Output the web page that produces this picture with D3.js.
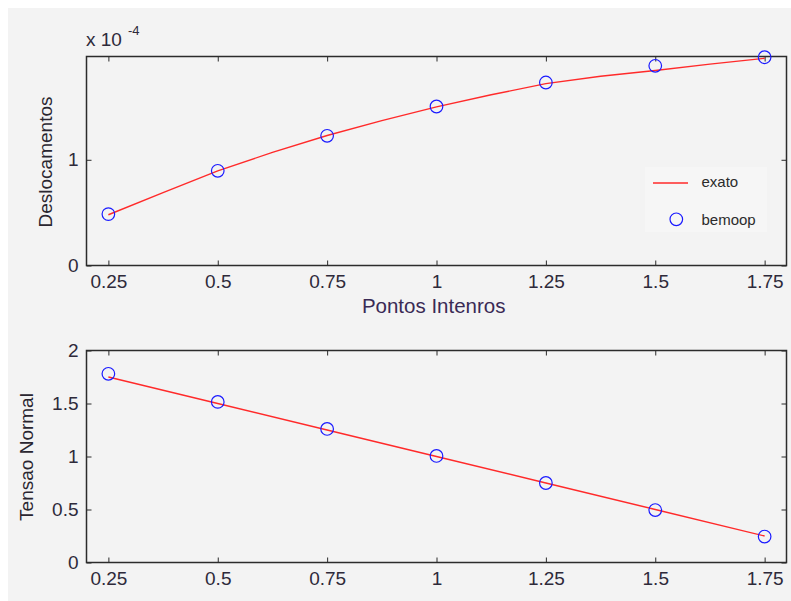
<!DOCTYPE html>
<html>
<head>
<meta charset="utf-8">
<script src="https://cdn.jsdelivr.net/npm/d3@7"></script>
<style>
  body { margin: 0; background: #fff; }
  svg { display: block; font-family: "Liberation Sans", Arial, sans-serif; }
  .axis path, .axis line { stroke: #2b2b2b; }
  .axis text { fill: #2e2a3a; font-size: 19px; }
</style>
</head>
<body>
<svg id="chart" width="791" height="601"></svg>
<script>
// ---- data ----
const pontos      = [0.25, 0.5, 0.75, 1.0, 1.25, 1.5, 1.75];
const xTicks      = [0.25, 0.5, 0.75, 1, 1.25, 1.5, 1.75];
const xTickLabels = ['0.25', '0.5', '0.75', '1', '1.25', '1.5', '1.75'];

// deslocamentos (x 1e-4)
const exatoX      = [0.25, 0.375, 0.5, 0.625, 0.75, 0.875, 1.0, 1.125, 1.25, 1.375, 1.5, 1.625, 1.75];
const deslExato   = [0.48, 0.69, 0.895, 1.07, 1.23, 1.37, 1.50, 1.615, 1.72, 1.79, 1.845, 1.905, 1.96];
const deslBemoop  = [0.486, 0.896, 1.227, 1.504, 1.731, 1.889, 1.97];
const deslTicks   = [0, 1];

// tensao normal
const tensExato   = [1.75, 1.5, 1.25, 1.0, 0.75, 0.5, 0.25];
const tensBemoop  = [1.78, 1.515, 1.26, 1.005, 0.75, 0.495, 0.245];
const tensTicks   = [0, 0.5, 1, 1.5, 2];
const tensTickLabels = ['0', '0.5', '1', '1.5', '2'];

const svg = d3.select('#chart');

// panel background
svg.append('rect')
  .attr('x', 8).attr('y', 8)
  .attr('width', 783).attr('height', 593)
  .attr('fill', '#f3f3f3');

const x = d3.scaleLinear().domain([0.2, 1.8]).range([86.5, 786.5]);

// draws one axes box with inward ticks on all four sides
function drawAxes(y, yTicks, yFmt, top, bottom) {
  const g = svg.append('g');

  g.append('g').attr('class', 'axis')
    .attr('transform', `translate(0,${bottom})`)
    .call(d3.axisBottom(x).tickValues(xTicks)
      .tickFormat((d, i) => xTickLabels[i])
      .tickSizeInner(-5).tickSizeOuter(0).tickPadding(9.5));

  g.append('g').attr('class', 'axis')
    .attr('transform', `translate(0,${top})`)
    .call(d3.axisTop(x).tickValues(xTicks).tickFormat('')
      .tickSizeInner(-5).tickSizeOuter(0));

  g.append('g').attr('class', 'axis')
    .attr('transform', `translate(${x.range()[0]},0)`)
    .call(d3.axisLeft(y).tickValues(yTicks).tickFormat(yFmt)
      .tickSizeInner(-5).tickSizeOuter(0).tickPadding(8));

  g.append('g').attr('class', 'axis')
    .attr('transform', `translate(${x.range()[1]},0)`)
    .call(d3.axisRight(y).tickValues(yTicks).tickFormat('')
      .tickSizeInner(-5).tickSizeOuter(0));

  // box
  g.append('rect')
    .attr('x', x.range()[0]).attr('y', top)
    .attr('width', x.range()[1] - x.range()[0])
    .attr('height', bottom - top)
    .attr('fill', 'none')
    .attr('stroke', '#2b2b2b')
    .attr('stroke-width', 1.5);

  g.selectAll('.axis path.domain').remove();
  return g;
}

function drawSeries(y, lineX, lineY, ptsY) {
  const line = d3.line().x((d, i) => x(lineX[i])).y(d => y(d));
  svg.append('path')
    .datum(lineY)
    .attr('d', line)
    .attr('fill', 'none')
    .attr('stroke', '#ff2a2a')
    .attr('stroke-width', 1.4);

  svg.append('g').selectAll('circle')
    .data(ptsY)
    .join('circle')
      .attr('cx', (d, i) => x(pontos[i]))
      .attr('cy', d => y(d))
      .attr('r', 6.3)
      .attr('fill', 'none')
      .attr('stroke', '#1a1aff')
      .attr('stroke-width', 1.2);
}

// ---- top: deslocamentos ----
const yTop = d3.scaleLinear().domain([0, 1.977]).range([265.5, 56.5]);
drawAxes(yTop, deslTicks, d => d3.format('d')(d), 56.5, 265.5);
drawSeries(yTop, exatoX, deslExato, deslBemoop);

svg.append('text')
  .attr('x', 86).attr('y', 46)
  .attr('font-size', 19).attr('fill', '#2e2a3a')
  .text('x 10');
svg.append('text')
  .attr('x', 128).attr('y', 35)
  .attr('font-size', 13).attr('fill', '#2e2a3a')
  .text('-4');

svg.append('text')
  .attr('transform', 'translate(51.5,162) rotate(-90)')
  .attr('text-anchor', 'middle')
  .attr('font-size', 19).attr('fill', '#2a2630')
  .text('Deslocamentos');

svg.append('text')
  .attr('x', 433.7).attr('y', 313.3)
  .attr('text-anchor', 'middle')
  .attr('font-size', 20.5).attr('fill', '#3a2a55')
  .text('Pontos Intenros');

// legend
const leg = svg.append('g');
leg.append('rect')
  .attr('x', 645).attr('y', 167).attr('width', 122).attr('height', 65)
  .attr('fill', '#f6f6f6');
leg.append('line')
  .attr('x1', 653).attr('x2', 688).attr('y1', 183).attr('y2', 183)
  .attr('stroke', '#ff2a2a').attr('stroke-width', 1.4);
leg.append('circle')
  .attr('cx', 676.3).attr('cy', 219.3).attr('r', 6.3)
  .attr('fill', 'none').attr('stroke', '#1a1aff').attr('stroke-width', 1.2);
leg.selectAll('text')
  .data(['exato', 'bemoop'])
  .join('text')
    .attr('x', 701.5)
    .attr('y', (d, i) => i ? 225 : 186.7)
    .attr('font-size', 15).attr('fill', '#2b2b2b')
    .text(d => d);

// ---- bottom: tensao normal ----
const yBot = d3.scaleLinear().domain([0, 2]).range([562.5, 350.5]);
drawAxes(yBot, tensTicks, (d, i) => tensTickLabels[i], 350.5, 562.5);
drawSeries(yBot, pontos, tensExato, tensBemoop);

svg.append('text')
  .attr('transform', 'translate(33,457) rotate(-90)')
  .attr('text-anchor', 'middle')
  .attr('font-size', 19).attr('fill', '#2a2630')
  .text('Tensao Normal');
</script>
</body>
</html>
